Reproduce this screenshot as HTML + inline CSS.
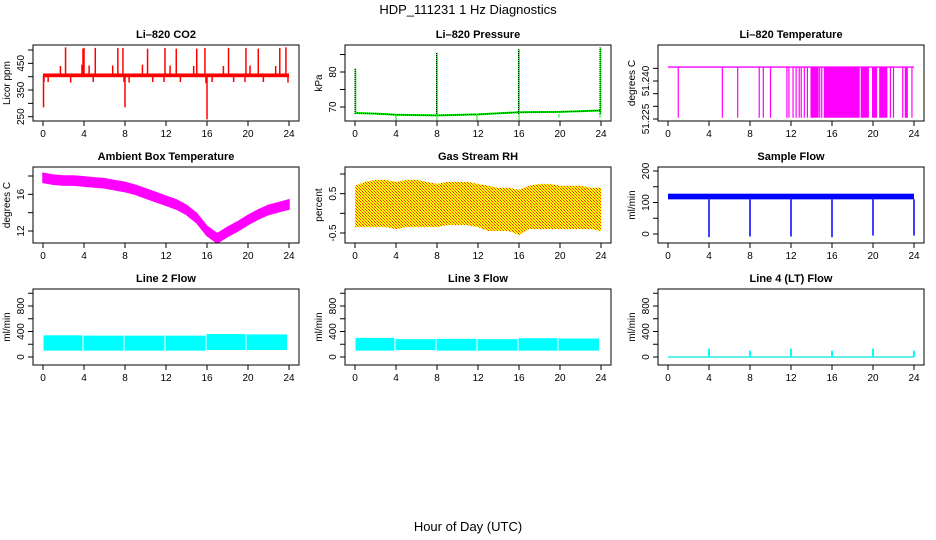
<!DOCTYPE html>
<html><head><meta charset="utf-8"><style>
html,body{margin:0;padding:0;background:#fff;}
svg{display:block;font-family:"Liberation Sans",sans-serif;}
</style></head><body>
<svg id="c" width="936" height="540" viewBox="0 0 936 540">
<defs>
<pattern id="rhpat" width="3" height="3" patternUnits="userSpaceOnUse">
<rect width="3" height="3" fill="#ffff00"/>
<rect x="0" y="0" width="1" height="1" fill="#ff3000"/>
<rect x="1" y="1" width="1" height="1" fill="#ff8000"/>
<rect x="2" y="2" width="1" height="1" fill="#ff3000"/>
</pattern>
</defs>
<text x="468" y="14" text-anchor="middle" font-size="13">HDP_111231  1 Hz Diagnostics</text>
<text x="468" y="531" text-anchor="middle" font-size="13">Hour of Day (UTC)</text>
</svg>
<script>
// ---------- data ----------
const xTicks=[0,4,8,12,16,20,24];
// CO2
const co2Base=405;
const co2SpikeTimes=[2.2,3.9,4.0,5.1,7.3,7.8,10.2,11.9,13.0,15.0,15.8,18.1,19.8,21.0,23.1,23.7,1.7,3.8,4.5,6.8,9.7,12.4,14.7,17.6,20.2,22.7,0.1,0.5,2.7,4.9,7.9,8.4,10.7,11.8,13.4,15.9,16.5,18.6,19.7,21.5,23.9,0.05,8.0,16.0];
const co2SpikeValues=[510,505,508,508,508,508,505,508,505,505,508,508,508,505,508,510,440,445,442,442,445,442,440,440,442,440,380,380,378,380,380,378,380,380,380,375,380,380,380,380,378,285,285,240];
// Pressure
const presHours=[0,2,4,8,12,16,20,24];
const presBase=[68.3,68.1,67.8,67.6,67.9,68.5,68.6,69.0];
const presSpikeTimes=[0.05,8.0,16.0,23.95];
const presSpikeValues=[81,85.5,86.5,87];
const presDipTimes=[4.0,8.0,11.9,16.0,19.9,23.9];
const presDipValues=[66,65.5,66,66.2,67,67];
// Li-820 temperature
const tempHigh=51.2455, tempLow=51.2255;
const tempDropTimes=[1.0,5.3,6.8,8.9,9.3,10.0,11.6,11.8,12.2,12.5,12.8,13.0,13.3,13.6,14.8,15.0,21.7,22.0,22.9,23.8];
const tempFillStart=[13.9,15.2,18.8,19.9,20.6,23.1];
const tempFillEnd=[14.7,18.7,19.6,20.4,21.4,23.4];
// Ambient box temperature
const ambHours=[0,1,2,3,4,5,6,7,8,9,10,11,12,13,14,15,16,17,18,19,20,21,22,23,24];
const ambMid=[17.8,17.6,17.5,17.5,17.4,17.3,17.2,17.0,16.8,16.5,16.1,15.7,15.3,14.9,14.3,13.4,12.0,11.2,11.9,12.5,13.2,13.8,14.3,14.6,14.9];
// Gas stream RH
const rhTop=[0.7,0.8,0.85,0.85,0.8,0.85,0.85,0.8,0.75,0.8,0.8,0.8,0.75,0.7,0.65,0.65,0.6,0.7,0.75,0.75,0.7,0.7,0.7,0.65,0.65];
const rhBottom=[-0.35,-0.35,-0.35,-0.35,-0.4,-0.35,-0.35,-0.35,-0.35,-0.3,-0.3,-0.3,-0.35,-0.45,-0.45,-0.45,-0.55,-0.4,-0.4,-0.4,-0.4,-0.4,-0.4,-0.4,-0.45];
// Sample flow
const sfLow=110, sfHigh=128;
const sfDropTimes=[4,8,12,16,20,24];
const sfDropValues=[-10,-8,-8,-10,-5,-5];
// Line flows
const segStart=[0.05,3.95,7.95,11.95,15.95,19.85];
const segEnd=[3.85,7.85,11.85,15.85,19.75,23.8];
const l2Low=[100,100,100,100,110,110];
const l2High=[340,335,335,335,360,355];
const l3Low=[100,110,100,100,100,100];
const l3High=[300,280,285,280,295,290];
const l4SpikeTimes=[4,8,12,16,20,24];
const l4SpikeValues=[130,100,130,100,130,100];

// ---------- helpers ----------
const svg=document.getElementById('c');
const NS='http://www.w3.org/2000/svg';
function mk(tag,attrs,parent){const e=document.createElementNS(NS,tag);for(const k in attrs)e.setAttribute(k,attrs[k]);(parent||svg).appendChild(e);return e;}
const W=266,H=76;
const cols=[33,345,658], rows=[45,167,289];
function makePanel(name,title,col,row,yTitle,ref,ticks,labels){
  const L=cols[col],T=rows[row];
  const g=mk('g',{});
  
  
  const xs=t=>L+10+(t)*(246/24);
  const ys=v=>T+ref[1]+(v-ref[0])*(ref[3]-ref[1])/(ref[2]-ref[0]);
  const tt=mk('text',{x:L+W/2,y:T-7,'text-anchor':'middle','font-size':'11','font-weight':'bold'},g);
  tt.textContent=title;
  
  
  const plot=mk('g',{},g);
  
  
  const box=mk('rect',{x:L,y:T,width:W,height:H,fill:'none',stroke:'#000','stroke-width':1},g);
  
  
  const xa=mk('g',{},g);
  
  
  mk('line',{x1:xs(0),x2:xs(24),y1:T+H,y2:T+H,stroke:'#000'},xa);
  xTicks.forEach(t=>{
    mk('line',{x1:xs(t),x2:xs(t),y1:T+H,y2:T+H+5,stroke:'#000'},xa);
    const tx=mk('text',{x:xs(t),y:T+H+16,'text-anchor':'middle','font-size':'10'},xa);
    tx.textContent=t;
  });
  const ya=mk('g',{},g);
  
  
  ticks.forEach(v=>{mk('line',{x1:L-5,x2:L,y1:ys(v),y2:ys(v),stroke:'#000'},ya);});
  labels.forEach(v=>{
    const tx=mk('text',{x:L-9,y:ys(v),'text-anchor':'middle','font-size':'10',transform:`rotate(-90 ${L-9} ${ys(v)})`},ya);
    tx.textContent=v;
  });
  const yt=mk('text',{x:L-23,y:T+H/2,'text-anchor':'middle','font-size':'10',transform:`rotate(-90 ${L-23} ${T+H/2})`},g);
  yt.textContent=yTitle;
  
  
  return {xs,ys,plot};
}
function vline(p,t,v1,v2,color,w){mk('line',{x1:p.xs(t),x2:p.xs(t),y1:p.ys(v1),y2:p.ys(v2),stroke:color,'stroke-width':w||1.3},p.plot);}

// CO2
let p=makePanel('co2','Li\u2013820 CO2',0,0,'Licor ppm',[500,5,250,71.7],[250,300,350,400,450,500],['250','350','450']);
co2SpikeTimes.forEach((t,i)=>vline(p,t,co2Base,co2SpikeValues[i],'#ff0000',1.5));
mk('rect',{x:p.xs(0),y:p.ys(412),width:p.xs(24)-p.xs(0),height:p.ys(398)-p.ys(412),fill:'#ff0000'},p.plot);

// Pressure
p=makePanel('pressure','Li\u2013820 Pressure',1,0,'kPa',[80,27,70,62],[70,75,80,85],['70','80']);
let pts=presHours.map((h,i)=>p.xs(h)+','+p.ys(presBase[i])).join(' ');
mk('polyline',{points:pts,fill:'none',stroke:'#00ee00','stroke-width':2},p.plot);
mk('polyline',{points:pts,fill:'none',stroke:'#000','stroke-width':1,'stroke-dasharray':'1 1'},p.plot);
presSpikeTimes.forEach((t,i)=>{vline(p,t,68,presSpikeValues[i],'#00ee00',1.5);mk('line',{x1:p.xs(t)-0.5,x2:p.xs(t)-0.5,y1:p.ys(68),y2:p.ys(presSpikeValues[i]),stroke:'#000','stroke-dasharray':'1 1'},p.plot);});
presDipTimes.forEach((t,i)=>vline(p,t,68,presDipValues[i],'#00ee00',1));

// Li-820 temperature
p=makePanel('li820-temp','Li\u2013820 Temperature',2,0,'degrees C',[51.240,36,51.225,74],[51.225,51.230,51.235,51.240,51.245],['51.225','51.240']);
mk('line',{x1:p.xs(0),x2:p.xs(24),y1:p.ys(tempHigh),y2:p.ys(tempHigh),stroke:'#ff00ff','stroke-width':1.3},p.plot);
tempDropTimes.forEach(t=>vline(p,t,tempHigh,tempLow,'#ff00ff',1.2));
tempFillStart.forEach((s,i)=>mk('rect',{x:p.xs(s),y:p.ys(tempHigh),width:p.xs(tempFillEnd[i])-p.xs(s),height:p.ys(tempLow)-p.ys(tempHigh),fill:'#ff00ff'},p.plot));

// Ambient
p=makePanel('ambient-temp','Ambient Box Temperature',0,1,'degrees C',[18,9,12,64],[12,14,16,18],['12','16']);
let up=ambHours.map((h,i)=>p.xs(h)+','+p.ys(ambMid[i]+0.5));
let dn=ambHours.map((h,i)=>p.xs(h)+','+p.ys(ambMid[i]-0.5)).reverse();
mk('polygon',{points:up.concat(dn).join(' '),fill:'#ff00ff',stroke:'#ff00ff','stroke-width':1.5},p.plot);

// RH
p=makePanel('gas-rh','Gas Stream RH',1,1,'percent',[1.0,7,-0.5,66],[-0.5,0,0.5,1.0],['-0.5','0.5']);
up=ambHours.map((h,i)=>p.xs(h)+','+p.ys(rhTop[i]));
dn=ambHours.map((h,i)=>p.xs(h)+','+p.ys(rhBottom[i])).reverse();
mk('polygon',{points:up.concat(dn).join(' '),fill:'url(#rhpat)'},p.plot);

// Sample flow
p=makePanel('sample-flow','Sample Flow',2,1,'ml/min',[200,4,0,67],[0,50,100,150,200],['0','100','200']);
mk('rect',{x:p.xs(0),y:p.ys(sfHigh),width:p.xs(24)-p.xs(0),height:p.ys(sfLow)-p.ys(sfHigh),fill:'#0000ff'},p.plot);
sfDropTimes.forEach((t,i)=>vline(p,t,sfLow,sfDropValues[i],'#0000ff',1.5));

// Line flows
function bandPanel(name,title,col,lows,highs){
  const q=makePanel(name,title,col,2,'ml/min',[800,17,0,68],[0,200,400,600,800,1000],['0','400','800']);
  segStart.forEach((s,i)=>mk('rect',{x:q.xs(s),y:q.ys(highs[i]),width:q.xs(segEnd[i])-q.xs(s),height:q.ys(lows[i])-q.ys(highs[i]),fill:'#00ffff'},q.plot));
  return q;
}
bandPanel('line2-flow','Line 2 Flow',0,l2Low,l2High);
bandPanel('line3-flow','Line 3 Flow',1,l3Low,l3High);
p=makePanel('line4-flow','Line 4 (LT) Flow',2,2,'ml/min',[800,17,0,68],[0,200,400,600,800,1000],['0','400','800']);
mk('line',{x1:p.xs(0),x2:p.xs(24),y1:p.ys(0),y2:p.ys(0),stroke:'#00e5e5','stroke-width':1.2},p.plot);
l4SpikeTimes.forEach((t,i)=>vline(p,t,0,l4SpikeValues[i],'#00ffff',2));
</script>
</body></html>
